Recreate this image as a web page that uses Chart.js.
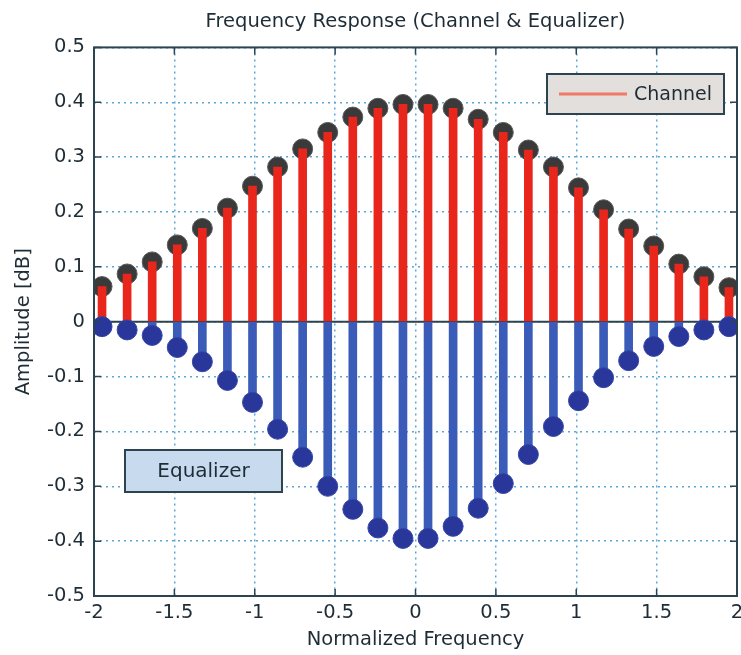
<!DOCTYPE html>
<html><head><meta charset="utf-8">
<script src="https://cdn.jsdelivr.net/npm/chart.js@4.4.1/dist/chart.umd.min.js"></script>
<style>html,body{margin:0;padding:0;background:#fff}#wrap{width:741px;height:655px}</style>
</head><body><div id="wrap"><canvas id="c" width="741" height="655"></canvas></div>
<script>
const frequencies = [-1.95,-1.794,-1.638,-1.482,-1.326,-1.17,-1.014,-0.858,-0.702,-0.546,-0.39,-0.234,-0.078,0.078,0.234,0.39,0.546,0.702,0.858,1.014,1.17,1.326,1.482,1.638,1.794,1.95];
const channelAmp = [0.064,0.087,0.109,0.140,0.170,0.207,0.247,0.282,0.315,0.345,0.373,0.389,0.396,0.396,0.389,0.369,0.345,0.313,0.282,0.244,0.204,0.169,0.138,0.105,0.082,0.062];
const equalizerAmp = [-0.009,-0.015,-0.025,-0.047,-0.073,-0.107,-0.147,-0.196,-0.247,-0.300,-0.342,-0.376,-0.395,-0.395,-0.373,-0.340,-0.295,-0.242,-0.191,-0.144,-0.102,-0.071,-0.045,-0.027,-0.015,-0.009];
const xTickValues = [-2,-1.5,-1,-0.5,0,0.5,1,1.5,2];
const xTickLabels = ['-2','-1.5','-1','-0.5','0','0.5','1','1.5','2'];
const yTickValues = [-0.5,-0.4,-0.3,-0.2,-0.1,0,0.1,0.2,0.3,0.4,0.5];
const yTickLabels = ['-0.5','-0.4','-0.3','-0.2','-0.1','0','0.1','0.2','0.3','0.4','0.5'];
const titleText = 'Frequency Response (Channel & Equalizer)';
const xTitle = 'Normalized Frequency';
const yTitle = 'Amplitude [dB]';
const channelName = 'Channel';
const equalizerName = 'Equalizer';

const channelPts = frequencies.map((f,i)=>({x:f,y:channelAmp[i]}));
const equalizerPts = frequencies.map((f,i)=>({x:f,y:equalizerAmp[i]}));

const FONT = "'DejaVu Sans', sans-serif";
const TXT = '#1e2c36';
const FRAME = '#2c4350';
Chart.defaults.font.family = FONT;
Chart.defaults.color = TXT;

const decor = {
  id:'decor',
  beforeDatasetsDraw(chart){
    const {ctx, chartArea:a, scales:{y}} = chart;
    const y0 = y.getPixelForValue(0);
    ctx.save();
    ctx.strokeStyle = FRAME; ctx.lineWidth = 2;
    ctx.beginPath(); ctx.moveTo(a.left,y0); ctx.lineTo(a.right,y0); ctx.stroke();
    ctx.restore();
  },
  afterDraw(chart){
    const {ctx, chartArea:a, scales:{x,y}} = chart;
    ctx.save();
    ctx.strokeStyle = FRAME; ctx.lineWidth = 1.5;
    ctx.beginPath();
    xTickValues.forEach(v=>{
      const px = x.getPixelForValue(v);
      ctx.moveTo(px,a.bottom); ctx.lineTo(px,a.bottom-7);
      ctx.moveTo(px,a.top); ctx.lineTo(px,a.top+7);
    });
    yTickValues.forEach(v=>{
      const py = y.getPixelForValue(v);
      ctx.moveTo(a.left,py); ctx.lineTo(a.left+7,py);
      ctx.moveTo(a.right,py); ctx.lineTo(a.right-7,py);
    });
    ctx.stroke();
    ctx.lineWidth = 2;
    ctx.strokeRect(a.left,a.top,a.right-a.left,a.bottom-a.top);
    // Channel legend box
    let bx = 547, by = 74, bw = 177, bh = 40;
    ctx.fillStyle = '#e3dfdc';
    ctx.fillRect(bx,by,bw,bh);
    ctx.strokeStyle = FRAME; ctx.lineWidth = 2;
    ctx.strokeRect(bx,by,bw,bh);
    ctx.strokeStyle = '#ef7a68'; ctx.lineWidth = 3;
    ctx.beginPath(); ctx.moveTo(bx+12,by+20); ctx.lineTo(bx+80,by+20); ctx.stroke();
    ctx.fillStyle = TXT; ctx.font = "19px "+FONT; ctx.textBaseline='middle'; ctx.textAlign='left';
    ctx.fillText(channelName,bx+87,by+21);
    // Equalizer box
    bx = 125; by = 450; bw = 157; bh = 42;
    ctx.fillStyle = '#c8dbee';
    ctx.fillRect(bx,by,bw,bh);
    ctx.strokeStyle = FRAME; ctx.lineWidth = 2;
    ctx.strokeRect(bx,by,bw,bh);
    ctx.fillStyle = TXT; ctx.textAlign='center'; ctx.font = "20px "+FONT;
    ctx.fillText(equalizerName,bx+bw/2,by+bh/2+1);
    ctx.restore();
  }
};

new Chart(document.getElementById('c'), {
  type:'bar',
  data:{datasets:[
    {type:'scatter', label:channelName+' markers', data:channelPts, pointRadius:10, pointBackgroundColor:'#3a3a3a', pointBorderColor:'#5a5a5a', pointBorderWidth:1, order:4},
    {type:'bar', label:channelName, data:channelPts, backgroundColor:'#e8261c', barThickness:8, grouped:false, order:3},
    {type:'bar', label:equalizerName, data:equalizerPts, backgroundColor:'#3a5cb8', barThickness:8, grouped:false, order:2},
    {type:'scatter', label:equalizerName+' markers', data:equalizerPts, pointRadius:10, pointBackgroundColor:'#283799', pointBorderColor:'#3346a8', pointBorderWidth:1, order:1}
  ]},
  options:{
    responsive:false, animation:false,
    layout:{autoPadding:false, padding:{left:0,right:4,top:0,bottom:0}},
    plugins:{
      legend:{display:false}, tooltip:{enabled:false},
      title:{display:true, text:titleText, fullSize:false, color:TXT, font:{size:19.5, weight:'normal', family:FONT}, padding:{top:10,bottom:14}}
    },
    scales:{
      x:{type:'linear', min:-2, max:2, offset:false,
        afterBuildTicks:s=>{ s.ticks = xTickValues.map(v=>({value:v})); },
        afterFit:s=>{ s.height = 59; s.paddingLeft = 0; s.paddingRight = 0; },
        ticks:{autoSkip:false, maxRotation:0, padding:5, color:TXT, font:{size:19.5}, callback:(v,i)=>xTickLabels[i]},
        grid:{color:'#5aa6da', lineWidth:1.5, drawTicks:false, offset:false},
        border:{display:false, dash:[2,4]},
        title:{display:true, text:xTitle, color:TXT, font:{size:19.5}, padding:{top:0,bottom:3}}
      },
      y:{type:'linear', min:-0.5, max:0.5,
        afterBuildTicks:s=>{ s.ticks = yTickValues.map(v=>({value:v})); },
        afterFit:s=>{ s.width = 94; s.paddingTop = 0; s.paddingBottom = 0; },
        ticks:{autoSkip:false, padding:9, color:TXT, font:{size:19.5}, callback:(v,i)=>yTickLabels[i]},
        grid:{color:'#5aa6da', lineWidth:1.5, drawTicks:false},
        border:{display:false, dash:[2,4]},
        title:{display:true, text:yTitle, color:TXT, font:{size:19.5}, padding:{top:12,bottom:0}}
      }
    }
  },
  plugins:[decor]
});
</script></body></html>
